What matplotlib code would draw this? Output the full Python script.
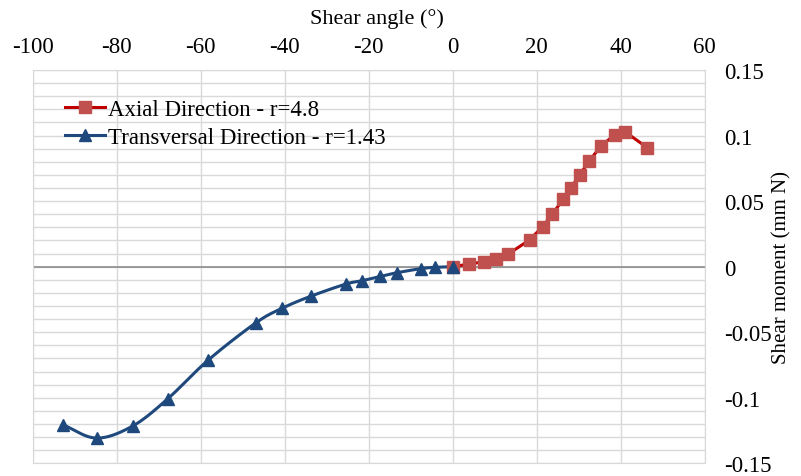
import numpy as np
import matplotlib.pyplot as plt
from matplotlib.ticker import FuncFormatter, MultipleLocator

plt.rcParams['font.family'] = ['Liberation Serif', 'DejaVu Serif']

# Axial direction (r=4.8)
axial_angle = [0.0, 3.9, 7.5, 10.2, 13.1, 18.3, 21.4, 23.7, 26.3, 28.2, 30.2,
               32.5, 35.3, 38.6, 41.1, 46.3]
axial_moment = [0.0, 0.002, 0.0038, 0.0059, 0.0094, 0.0204, 0.0305, 0.040,
                0.0514, 0.0603, 0.070, 0.0806, 0.092, 0.1007, 0.1027, 0.0908]

# Transversal direction (r=1.43)
trans_angle = [-92.7, -84.8, -76.2, -67.9, -58.2, -46.9, -40.7, -33.7, -25.4,
               -21.6, -17.2, -13.3, -7.6, -4.3, 0.0]
trans_moment = [-0.1207, -0.1307, -0.1215, -0.1009, -0.0712, -0.0429, -0.0318,
                -0.0224, -0.0132, -0.0107, -0.0074, -0.0046, -0.0015, -0.0005,
                0.0]


def smooth(x, y, n=20):
    # Catmull-Rom path through the points, like a spreadsheet "smoothed line"
    x = np.asarray(x, float)
    y = np.asarray(y, float)
    px = np.concatenate([[2 * x[0] - x[1]], x, [2 * x[-1] - x[-2]]])
    py = np.concatenate([[2 * y[0] - y[1]], y, [2 * y[-1] - y[-2]]])
    t = np.linspace(0, 1, n, endpoint=False)
    xs, ys = [], []
    for i in range(1, len(px) - 2):
        for p, out in ((px, xs), (py, ys)):
            p0, p1, p2, p3 = p[i - 1], p[i], p[i + 1], p[i + 2]
            out.extend(0.5 * (2 * p1 + (-p0 + p2) * t
                              + (2 * p0 - 5 * p1 + 4 * p2 - p3) * t ** 2
                              + (-p0 + 3 * p1 - 3 * p2 + p3) * t ** 3))
    xs.append(x[-1])
    ys.append(y[-1])
    return xs, ys


fig = plt.figure(figsize=(8.01, 4.77), dpi=100)
ax = fig.add_axes([0.0408, 0.0264, 0.8390, 0.8248])

grid_c = '#D9D9D9'
ax.set_xlim(-100, 60)
ax.set_ylim(-0.15, 0.15)
ax.xaxis.set_major_locator(MultipleLocator(20))
ax.yaxis.set_major_locator(MultipleLocator(0.05))
ax.yaxis.set_minor_locator(MultipleLocator(0.01))
ax.grid(True, which='major', axis='x', color=grid_c, lw=1)
ax.grid(True, which='both', axis='y', color=grid_c, lw=1)
ax.set_axisbelow(True)
ax.axhline(0, color='#8C8C8C', lw=1.2, zorder=1)
for s in ax.spines.values():
    s.set_color(grid_c)

ax.xaxis.tick_top()
ax.xaxis.set_label_position('top')
ax.yaxis.tick_right()
ax.yaxis.set_label_position('right')
ax.tick_params(which='both', length=0, labelsize=16.5)
ax.tick_params(axis='x', pad=9.5)
ax.tick_params(axis='y', pad=14)
fmt = FuncFormatter(lambda v, p: '%g' % round(v, 4) if abs(v) > 1e-9 else '0')
ax.xaxis.set_major_formatter(fmt)
ax.yaxis.set_major_formatter(fmt)
for lab in ax.get_yticklabels():
    lab.set_horizontalalignment('left')

ax.set_xlabel('Shear angle (°)', fontsize=16)
ax.xaxis.set_label_coords(0.512, 1.0 + 47 / 393.4)
ax.set_ylabel('Shear moment (mm N)', fontsize=15, va='center')
ax.yaxis.set_label_coords(1.0 + 77 / 672, 0.5)

ax.plot(axial_angle, axial_moment, color='#C00000', lw=2.2, zorder=3)
ax.plot(axial_angle, axial_moment, ls='none', marker='s', ms=8,
        color='#C0504D', zorder=4)
sx, sy = smooth(trans_angle, trans_moment)
ax.plot(sx, sy, color='#1F497D', lw=2.2, zorder=3)
ax.plot(trans_angle, trans_moment, ls='none', marker='^', ms=8,
        color='#1F497D', zorder=4)

h1, = ax.plot([], [], color='#C00000', lw=2.2, marker='s', ms=8,
              mfc='#C0504D', mec='#C0504D')
h2, = ax.plot([], [], color='#1F497D', lw=2.2, marker='^', ms=8)
ax.legend([h1, h2], ['Axial Direction - r=4.8', 'Transversal Direction - r=1.43'],
          loc='upper left', bbox_to_anchor=(0.048, 0.927), frameon=False,
          fontsize=16.5, handlelength=1.75, handletextpad=0.13, labelspacing=0.3,
          borderaxespad=0, borderpad=0)

fig.savefig('out.png', dpi=100)
